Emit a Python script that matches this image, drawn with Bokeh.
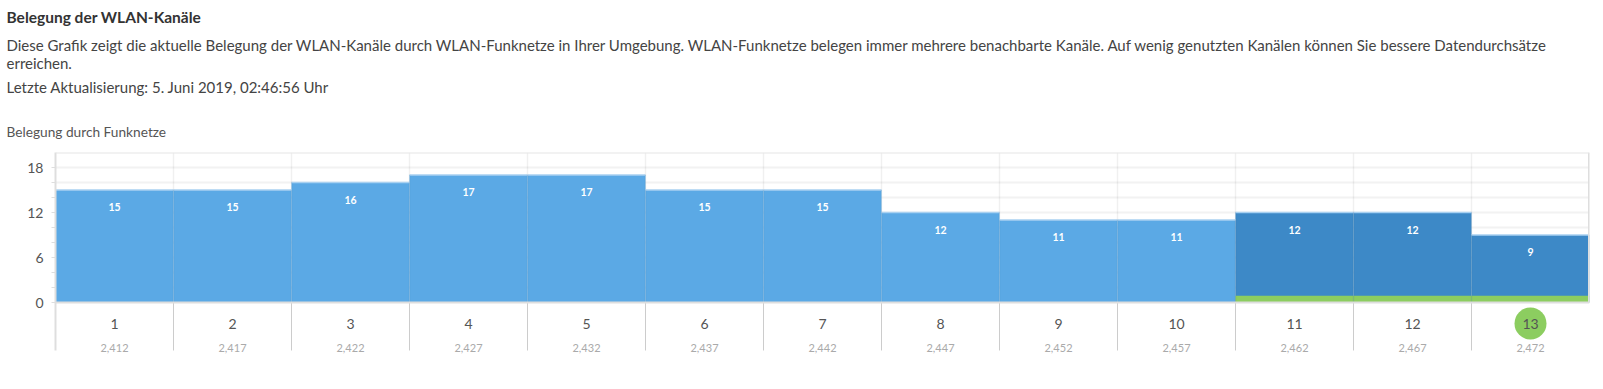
from bokeh.plotting import figure
from bokeh.layouts import column
from bokeh.models import Range1d, FixedTicker, Span
from bokeh.core.properties import value
from bokeh.embed import file_html
from bokeh.resources import INLINE

# ---------------- data ----------------
channels = [1, 2, 3, 4, 5, 6, 7, 8, 9, 10, 11, 12, 13]
frequencies = ["2,412", "2,417", "2,422", "2,427", "2,432", "2,437", "2,442",
               "2,447", "2,452", "2,457", "2,462", "2,467", "2,472"]
networks = [15, 15, 16, 17, 17, 15, 15, 12, 11, 11, 12, 12, 9]
own_channels = [11, 12, 13]          # channels occupied by the own WLAN
active_channel = [13]                # currently used channel
y_ticks = [0, 6, 12, 18]
y_minor_ticks = [2, 4, 8, 10, 14, 16]
grid_ticks = [2, 4, 6, 8, 10, 12, 14, 16, 18]

title_text = "Belegung der WLAN-Kanäle"
desc_line1 = ("Diese Grafik zeigt die aktuelle Belegung der WLAN-Kanäle durch WLAN-Funknetze in Ihrer Umgebung. "
              "WLAN-Funknetze belegen immer mehrere benachbarte Kanäle. Auf wenig genutzten Kanälen können Sie bessere Datendurchsätze")
desc_line2 = "erreichen."
update_text = "Letzte Aktualisierung: 5. Juni 2019, 02:46:56 Uhr"
chart_label = "Belegung durch Funknetze"

FONT = "Lato"
LIGHT = "#5ba9e5"
DARK = "#3d89c7"
GREEN = "#8ccd60"

W = 1597
HEAD_H = 140

# ---------------- header (text only) ----------------
head = figure(width=W, height=HEAD_H, x_range=Range1d(0, W), y_range=Range1d(HEAD_H, 0),
              output_backend="svg", toolbar_location=None,
              x_axis_location=None, y_axis_location=None,
              min_border=0)
head.frame_align = False
head.outline_line_color = None
head.grid.visible = False


def head_text(txt, x, y, size, color, style="normal"):
    head.text(x=[x], y=[y], text=[txt], text_font=value(FONT), text_font_size=size,
              text_color=color, text_font_style=style,
              text_align="left", text_baseline="middle")


head_text(title_text, 6, 16.5, "15.5px", "#333333", "bold")
head_text(desc_line1, 6, 44.5, "15px", "#444444")
head_text(desc_line2, 6, 62, "15px", "#444444")
head_text(update_text, 6, 86, "15px", "#444444")
head_text(chart_label, 6, 131, "13.7px", "#555555")

# ---------------- chart ----------------
p = figure(width=W, height=381 - HEAD_H,
           x_range=Range1d(0.5, 13.5), y_range=Range1d(-8, 20),
           output_backend="svg", toolbar_location=None,
           x_axis_location=None,
           min_border_left=55, min_border_right=8,
           min_border_top=152 - HEAD_H, min_border_bottom=19)
p.frame_align = False
p.outline_line_color = None

# grid
p.xgrid.visible = False
p.ygrid.ticker = FixedTicker(ticks=grid_ticks)
p.ygrid.grid_line_color = "#f2f2f2"
p.ygrid.grid_line_width = 2

# y axis
ya = p.yaxis[0]
ya.ticker = FixedTicker(ticks=y_ticks, minor_ticks=y_minor_ticks)
ya.bounds = (-6.4, 20)
ya.axis_line_color = "#dedede"
ya.axis_line_width = 2
ya.major_tick_in = 0
ya.major_tick_out = 4
ya.minor_tick_in = 0
ya.minor_tick_out = 4
ya.major_tick_line_color = "#dedede"
ya.minor_tick_line_color = "#dedede"
ya.major_label_text_font = FONT
ya.major_label_text_font_size = "14px"
ya.major_label_text_color = "#555555"
ya.major_label_standoff = 8

# bars
colors = [DARK if c in own_channels else LIGHT for c in channels]
p.quad(left=[c - 0.5 for c in channels], right=[c + 0.5 for c in channels],
       bottom=0, top=networks, fill_color=colors, line_color=None)
p.segment(x0=[c - 0.5 for c in channels], x1=[c + 0.5 for c in channels],
          y0=networks, y1=networks, line_color="#a9d1f1", line_width=1.5)

# green strip on own channels
p.quad(left=[c - 0.5 for c in own_channels], right=[c + 0.5 for c in own_channels],
       bottom=0, top=0.9, fill_color=GREEN, line_color=None)

# vertical separators
bounds = [c + 0.5 for c in channels[:-1]]
p.segment(x0=bounds, x1=bounds, y0=0, y1=20, line_color="#000000", line_alpha=0.06, line_width=1.5)
p.segment(x0=bounds, x1=bounds, y0=-6.4, y1=0, line_color="#cccccc", line_width=1)

# borders
p.add_layout(Span(location=0, dimension="width", line_color="#dedede", line_width=2))
p.add_layout(Span(location=20, dimension="width", line_color="#e6e6e6", line_width=2))
p.segment(x0=[13.5], x1=[13.5], y0=[0], y1=[20], line_color="#dedede", line_width=3)

# values in bars
p.text(x=channels, y=networks, text=[str(v) for v in networks], y_offset=17,
       text_font=value(FONT), text_font_style="bold", text_font_size="10.5px",
       text_color="white", text_align="center", text_baseline="middle")

# channel circle
p.scatter(x=active_channel, y=[-2.8] * len(active_channel), size=32, marker="circle",
          fill_color=GREEN, line_color=None)

# channel numbers and frequencies
p.text(x=channels, y=-2.8, text=[str(c) for c in channels],
       text_font=value(FONT), text_font_size="14px", text_color="#555555",
       text_align="center", text_baseline="middle")
p.text(x=channels, y=-6.0, text=frequencies,
       text_font=value(FONT), text_font_size="11px", text_color="#aaaaaa",
       text_align="center", text_baseline="middle")

layout = column(head, p, spacing=0)
open("out.html", "w").write(file_html(layout, INLINE))
